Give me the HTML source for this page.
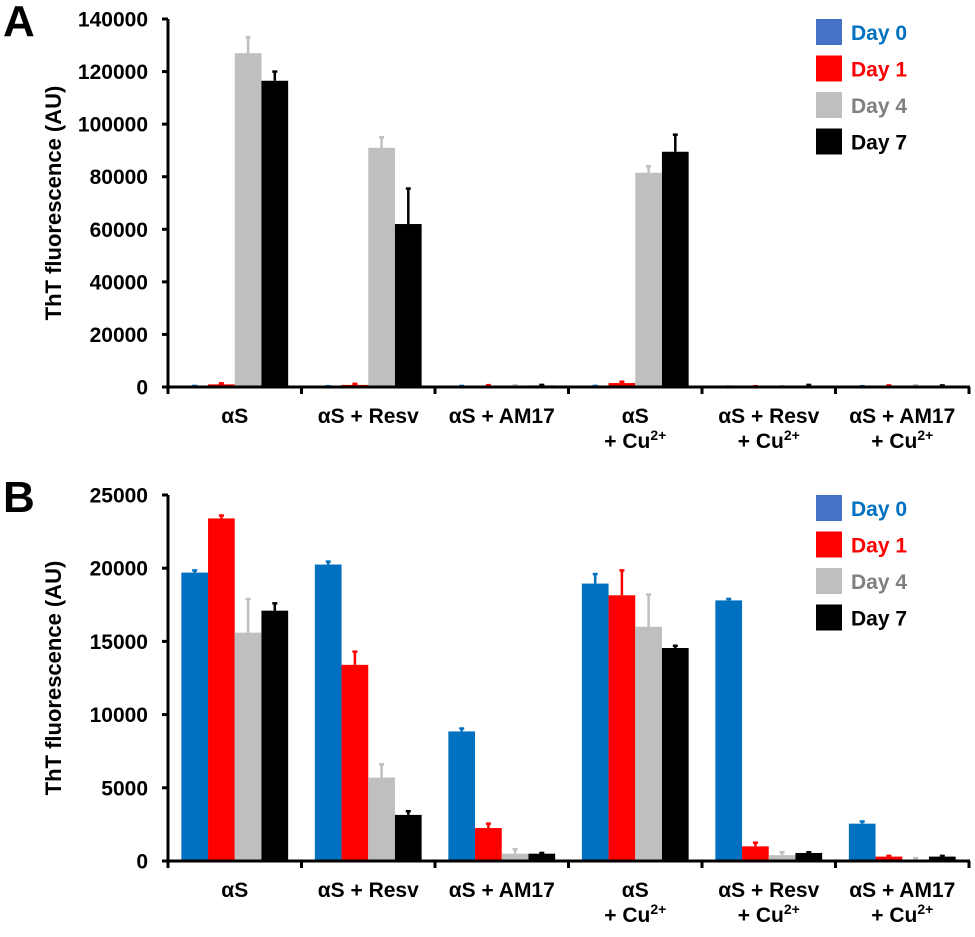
<!DOCTYPE html>
<html><head><meta charset="utf-8">
<style>
html,body{margin:0;padding:0;background:#fff;}
svg{display:block;font-family:"Liberation Sans",Arial,sans-serif;font-weight:bold;}
</style></head>
<body>
<svg id="chart" width="975" height="937" viewBox="0 0 975 937" xmlns="http://www.w3.org/2000/svg"></svg>
<script>
const categories = ["αS","αS + Resv","αS + AM17","αS|+ Cu","αS + Resv|+ Cu","αS + AM17|+ Cu"];
const seriesNames = ["Day 0","Day 1","Day 4","Day 7"];
const barColors = ["#0070C0","#FF0000","#BFBFBF","#000000"];
const legendColors = ["#4472C4","#FF0000","#BFBFBF","#000000"];
const textColors = ["#0070C0","#FF0000","#808080","#000000"];
const errColors = ["#0070C0","#FF0000","#BFBFBF","#000000"];
// Panel A values [category][series]
const aDay0 = [300,200,300,300,100,200];
const aDay1 = [1000,800,500,1500,200,400];
const aDay4 = [127000,91000,400,81500,200,400];
const aDay7 = [116500,62000,600,89500,500,400];
const aErr0 = [100,100,100,100,50,100];
const aErr1 = [400,400,200,500,100,200];
const aErr4 = [6000,4000,200,2500,100,300];
const aErr7 = [3500,13500,200,6500,300,200];
const aTicks = [0,20000,40000,60000,80000,100000,120000,140000];
// Panel B values
const bDay0 = [19700,20250,8850,18950,17800,2550];
const bDay1 = [23400,13400,2250,18150,1000,300];
const bDay4 = [15600,5700,500,16000,400,100];
const bDay7 = [17100,3150,500,14550,550,300];
const bErr0 = [150,200,200,650,100,150];
const bErr1 = [200,900,300,1700,250,50];
const bErr4 = [2300,900,300,2200,200,100];
const bErr7 = [500,250,50,150,50,50];
const bTicks = [0,5000,10000,15000,20000,25000];

const NS="http://www.w3.org/2000/svg";
const svg=document.getElementById('chart');
function mk(tag,attrs,parent){const e=document.createElementNS(NS,tag);for(const k in attrs)e.setAttribute(k,attrs[k]);(parent||svg).appendChild(e);return e;}

function panel(letter,top,zeroY,max,ticks,vals,errs){
  const g=mk('g',{});
  
  
  const x0=168, x1=969;
  const gw=(x1-x0)/categories.length, bw=gw*0.2;
  const y=v=>zeroY-(v/max)*(zeroY-top);
  const lt=mk('text',{x:3,y:top+17,'font-size':44,fill:'#000'},g);lt.textContent=letter;
  
  
  for(let c=0;c<categories.length;c++){
    for(let s=0;s<4;s++){
      const v=vals[s][c], e=errs[s][c];
      const bx=x0+c*gw+gw*0.1+s*bw;
      const r=mk('rect',{x:bx,y:y(v),width:bw,height:zeroY-y(v),fill:barColors[s]},g);
      
      
      const cx=bx+bw/2;
      const el=mk('line',{x1:cx,x2:cx,y1:y(v),y2:y(v+e),stroke:errColors[s],'stroke-width':2.5},g);
      
      
      mk('line',{x1:cx-2.5,x2:cx+2.5,y1:y(v+e),y2:y(v+e),stroke:errColors[s],'stroke-width':2.5},g);
    }
  }
  const ya=mk('line',{x1:x0,x2:x0,y1:top,y2:zeroY+6,stroke:'#000','stroke-width':3},g);
  
  
  const xa=mk('line',{x1:x0-6,x2:x1+1,y1:zeroY,y2:zeroY,stroke:'#000','stroke-width':3},g);
  
  
  ticks.forEach(t=>{
    mk('line',{x1:x0-6,x2:x0,y1:y(t),y2:y(t),stroke:'#000','stroke-width':3},g);
    const tx=mk('text',{x:x0-20,y:y(t)+7.5,'font-size':21,'text-anchor':'end',fill:'#000'},g);
    tx.textContent=t;
    
    
  });
  for(let c=0;c<=categories.length;c++){
    const tx=x0+c*gw;
    mk('line',{x1:tx,x2:tx,y1:zeroY,y2:zeroY+7,stroke:'#000','stroke-width':3},g);
  }
  categories.forEach((cat,c)=>{
    const parts=cat.split('|');
    const cx=x0+c*gw+gw/2;
    parts.forEach((p,i)=>{
      const t=mk('text',{x:cx,y:zeroY+36+i*25,'font-size':21,'text-anchor':'middle',fill:'#000'},g);
      if(p==='+ Cu'){t.textContent='+ Cu';const sp=mk('tspan',{'font-size':14,dy:-8},t);sp.textContent='2+';}
      else t.textContent=p;
      
      
    });
  });
  const yt=mk('text',{x:0,y:0,'font-size':22,'text-anchor':'middle',fill:'#000',transform:`translate(61,${(top+zeroY)/2}) rotate(-90)`},g);
  yt.textContent='ThT fluorescence (AU)';
  
  
  seriesNames.forEach((n,s)=>{
    const ly=top+s*36.5;
    const sw=mk('rect',{x:816,y:ly,width:26,height:26,fill:legendColors[s]},g);
    
    
    const lt2=mk('text',{x:851,y:ly+21,'font-size':21,fill:textColors[s]},g);
    lt2.textContent=n;
    
    
  });
}
panel('A',19,387,140000,aTicks,[aDay0,aDay1,aDay4,aDay7],[aErr0,aErr1,aErr4,aErr7]);
panel('B',495,861,25000,bTicks,[bDay0,bDay1,bDay4,bDay7],[bErr0,bErr1,bErr4,bErr7]);
</script>
</body></html>
